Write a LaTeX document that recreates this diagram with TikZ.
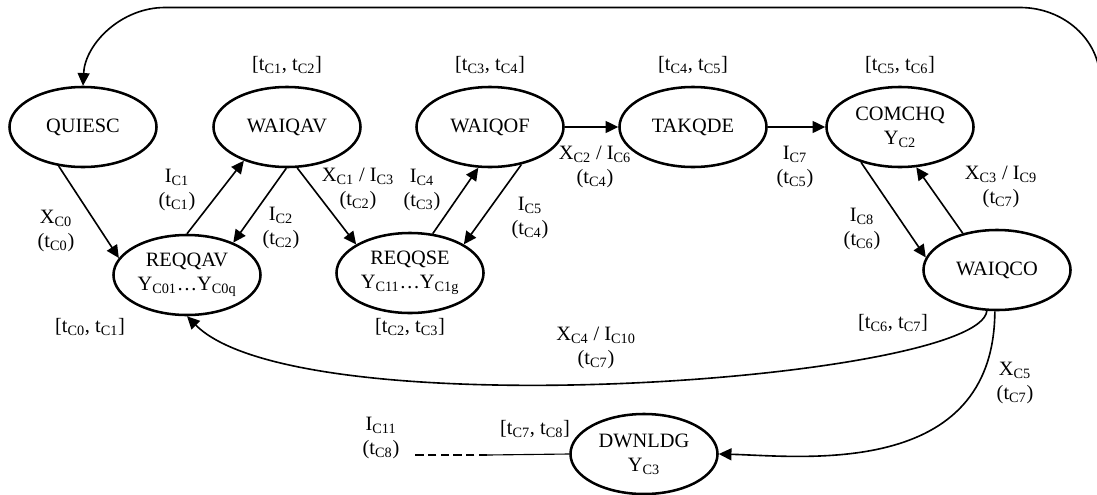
\documentclass[tikz,border=0pt]{standalone}
\usepackage{fontspec}
\setmainfont{Liberation Serif}
\usepackage{tikz}
\usetikzlibrary{shapes.geometric,arrows.meta}
\tikzstyle{state} = [ellipse, draw, line width=1.8pt, minimum width=3.675cm, minimum height=2cm, inner sep=0pt, align=center]
\tikzstyle{arrow} = [line width=1.15pt,-{Triangle[length=9pt,width=8.5pt]}]
\tikzstyle{lbl} = [align=center, inner sep=0pt]
\newcommand{\sbs}[1]{\textsubscript{#1}}

\begin{document}
\begin{tikzpicture}[x=0.025cm, y=-0.025cm, font=\fontsize{14.5}{17}\selectfont]
        \useasboundingbox (0,0) rectangle (1097,494);
        \node (quiesc) [state] at (83,127) {QUIESC};
        \node (waiqav) [state] at (287,127) {WAIQAV};
        \node (waiqof) [state] at (490,127) {WAIQOF};
        \node (takqde) [state] at (693,127) {TAKQDE};
        \node (comchq) [state] at (900,127) {COMCHQ\\Y\sbs{C2}};
        \node (reqqav) [state] at (187,275) {REQQAV\\Y\sbs{C01}\ldots Y\sbs{C0q}};
        \node (reqqse) [state] at (410,273) {REQQSE\\Y\sbs{C11}\ldots Y\sbs{C1g}};
        \node (waiqco) [state] at (997,270) {WAIQCO};
        \node (dwnldg) [state] at (644,454) {DWNLDG\\Y\sbs{C3}};

        \node (int_qav) [lbl, above of=waiqav, node distance=1.55cm] {[t\sbs{C1}, t\sbs{C2}]};
        \node (int_qof) [lbl, above of=waiqof, node distance=1.55cm] {[t\sbs{C3}, t\sbs{C4}]};
        \node (int_qde) [lbl, above of=takqde, node distance=1.55cm] {[t\sbs{C4}, t\sbs{C5}]};
        \node (int_chq) [lbl, above of=comchq, node distance=1.55cm] {[t\sbs{C5}, t\sbs{C6}]};
        \node (int_rav) [lbl] at (90,327) {[t\sbs{C0}, t\sbs{C1}]};
        \node (int_rse) [lbl] at (410,327) {[t\sbs{C2}, t\sbs{C3}]};
        \node (int_qco) [lbl] at (893,323) {[t\sbs{C6}, t\sbs{C7}]};
        \node (int_dwn) [lbl] at (535,429) {[t\sbs{C7}, t\sbs{C8}]};

        \coordinate (loop_in) at (1100,100);
        \coordinate (dash_start) at (487,455);
        \coordinate (dash_end) at (412,455);

        \draw [arrow] (quiesc.-122) -- (reqqav.166);
        \draw [arrow] (reqqav.90) -- (waiqav.-142);
        \draw [arrow] (waiqav.-91) -- (reqqav.35);
        \draw [arrow] (waiqav.-76) -- (reqqse.152);
        \draw [arrow] (reqqse.60) -- (waiqof.-106);
        \draw [arrow] (waiqof.-50) -- (reqqse.28);
        \draw [arrow] (waiqof) -- (takqde);
        \draw [arrow] (takqde) -- (comchq);
        \draw [arrow] (comchq.-138) -- (waiqco.170);
        \draw [arrow] (waiqco.133) -- (comchq.-68);
        \draw [arrow] (waiqco.-104) .. controls (980,380) and (300,430) .. (reqqav.-90);
        \draw [arrow] (waiqco.-93) .. controls (994,480) and (800,456) .. (dwnldg.east);
        \draw [arrow] (loop_in) -- (1100,80) .. controls (1100,40) and (1064,7.5) .. (1020,7.5) -- (165,7.5) .. controls (121,7.5) and (85,44) .. (quiesc.north);
        \draw [line width=0.8pt] (dwnldg.west) -- (dash_start);
        \draw [line width=0.8pt, dash pattern=on 6pt off 3pt] (dash_start) -- (dash_end);

        \node (lbl_x0) [lbl] at (56,231) {X\sbs{C0}\\(t\sbs{C0})};
        \node (lbl_i1) [lbl] at (177,190) {I\sbs{C1}\\(t\sbs{C1})};
        \node (lbl_i2) [lbl] at (281,228) {I\sbs{C2}\\(t\sbs{C2})};
        \node (lbl_x1) [lbl] at (358,189) {X\sbs{C1} / I\sbs{C3}\\(t\sbs{C2})};
        \node (lbl_i4) [lbl] at (422,190) {I\sbs{C4}\\(t\sbs{C3})};
        \node (lbl_i5) [lbl] at (530,218) {I\sbs{C5}\\(t\sbs{C4})};
        \node (lbl_x2) [lbl] at (595,167) {X\sbs{C2} / I\sbs{C6}\\(t\sbs{C4})};
        \node (lbl_i7) [lbl] at (795,167) {I\sbs{C7}\\(t\sbs{C5})};
        \node (lbl_i8) [lbl] at (862,229) {I\sbs{C8}\\(t\sbs{C6})};
        \node (lbl_x3) [lbl] at (1001,187) {X\sbs{C3} / I\sbs{C9}\\(t\sbs{C7})};
        \node (lbl_x4) [lbl] at (596,348) {X\sbs{C4} / I\sbs{C10}\\(t\sbs{C7})};
        \node (lbl_x5) [lbl] at (1015,383) {X\sbs{C5}\\(t\sbs{C7})};
        \node (lbl_i11) [lbl] at (381,438) {I\sbs{C11}\\(t\sbs{C8})};
    \end{tikzpicture}
\end{document}
